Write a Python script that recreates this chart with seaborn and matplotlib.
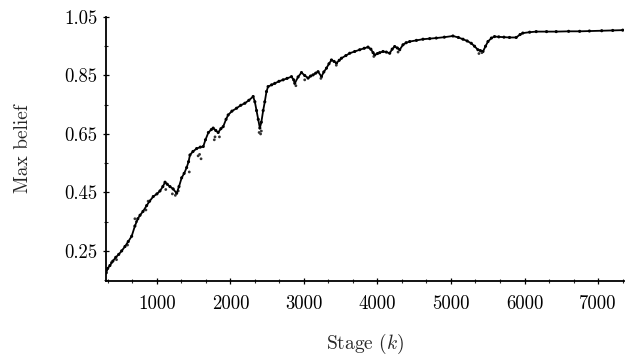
import matplotlib
matplotlib.use("Agg")
import matplotlib.pyplot as plt
import seaborn as sns
import pandas as pd
import numpy as np
from matplotlib.ticker import MultipleLocator, FixedLocator

stage = [310, 330, 360, 400, 440, 480, 520, 565, 610, 656, 700, 740, 770, 810, 860,
         900, 950, 1000, 1041, 1080, 1110, 1140, 1177, 1220, 1268, 1300, 1336, 1370,
         1404, 1430, 1449, 1490, 1540, 1590, 1630, 1660, 1700, 1740, 1765, 1800, 1833,
         1870, 1901, 1940, 1969, 2020, 2083, 2140, 2196, 2250, 2309, 2332, 2355, 2378,
         2400, 2420, 2445, 2467, 2490, 2512, 2560, 2603, 2660, 2716, 2770, 2830, 2860,
         2875, 2920, 2966, 3010, 3056, 3090, 3124, 3160, 3192, 3238, 3270, 3306, 3340,
         3374, 3410, 3442, 3480, 3510, 3570, 3622, 3690, 3758, 3820, 3871, 3910, 3940,
         3962, 4000, 4030, 4075, 4120, 4166, 4200, 4234, 4270, 4302, 4347, 4390, 4438,
         4530, 4619, 4710, 4800, 4910, 5026, 5100, 5163, 5220, 5276, 5320, 5366, 5400,
         5435, 5470, 5503, 5550, 5592, 5650, 5720, 5796, 5887, 5940, 5977, 6070, 6159,
         6300, 6431, 6600, 6750, 6883, 7050, 7200, 7336]
belief = [0.175, 0.19, 0.20, 0.215, 0.228, 0.238, 0.25, 0.265, 0.282, 0.30, 0.335, 0.36,
          0.372, 0.385, 0.405, 0.42, 0.436, 0.445, 0.455, 0.47, 0.485, 0.478, 0.47, 0.462,
          0.447, 0.47, 0.50, 0.515, 0.535, 0.555, 0.578, 0.59, 0.60, 0.605, 0.607, 0.63,
          0.655, 0.665, 0.67, 0.662, 0.655, 0.668, 0.675, 0.70, 0.715, 0.728, 0.738, 0.748,
          0.755, 0.765, 0.778, 0.76, 0.73, 0.70, 0.67, 0.69, 0.73, 0.76, 0.795, 0.812,
          0.818, 0.823, 0.83, 0.835, 0.84, 0.846, 0.835, 0.823, 0.845, 0.86, 0.85, 0.841,
          0.848, 0.852, 0.858, 0.863, 0.846, 0.862, 0.875, 0.89, 0.903, 0.898, 0.892,
          0.902, 0.909, 0.918, 0.926, 0.932, 0.938, 0.943, 0.947, 0.94, 0.928, 0.92,
          0.925, 0.928, 0.932, 0.93, 0.926, 0.94, 0.949, 0.944, 0.938, 0.955, 0.962,
          0.966, 0.97, 0.974, 0.976, 0.978, 0.981, 0.985, 0.98, 0.974, 0.968, 0.96, 0.95,
          0.938, 0.935, 0.932, 0.95, 0.966, 0.978, 0.983, 0.982, 0.981, 0.98, 0.98, 0.99,
          0.995, 0.998, 1.0, 1.0, 1.0, 1.001, 1.001, 1.002, 1.003, 1.004, 1.005]

scatter_stage = [380, 450, 600, 700, 720, 850, 880, 1120, 1210, 1250, 1290, 1440, 1560,
                 1580, 1600, 1780, 1790, 1850, 2390, 2410, 2420, 2890, 3010, 3230, 3440,
                 3950, 4280, 5380, 5420]
scatter_belief = [0.21, 0.22, 0.27, 0.36, 0.35, 0.39, 0.42, 0.46, 0.445, 0.44, 0.455,
                  0.52, 0.575, 0.58, 0.565, 0.63, 0.64, 0.64, 0.655, 0.65, 0.66, 0.815,
                  0.835, 0.84, 0.885, 0.915, 0.93, 0.925, 0.928]

yticks = [0.25, 0.45, 0.65, 0.85, 1.05]
ytick_labels = ["0.25", "0.45", "0.65", "0.85", "1.05"]
xticks = [1000, 2000, 3000, 4000, 5000, 6000, 7000]
xtick_labels = ["1000", "2000", "3000", "4000", "5000", "6000", "7000"]

sns.set_style("white")
plt.rcParams["font.family"] = ["cmr10", "DejaVu Serif"]
plt.rcParams["mathtext.fontset"] = "cm"
plt.rcParams["axes.formatter.use_mathtext"] = True

df = pd.DataFrame({"stage": stage, "belief": belief})
df_sc = pd.DataFrame({"stage": scatter_stage, "belief": scatter_belief})

fig = plt.figure(figsize=(6.25, 3.6), dpi=100)
ax = fig.add_axes([0.1696, 0.2194, 0.8284, 0.7334])

sns.lineplot(data=df, x="stage", y="belief", ax=ax, color="black", lw=1.3, sort=False)
sns.scatterplot(data=df, x="stage", y="belief", ax=ax, color="black", s=5,
                edgecolor="none")
sns.scatterplot(data=df_sc, x="stage", y="belief", ax=ax, color="#333333", s=4,
                edgecolor="none")

ax.set_xlim(307, 7350)
ax.set_ylim(0.147, 1.05)
ax.set_xticks(xticks)
ax.set_xticklabels(xtick_labels)
ax.set_yticks(yticks)
ax.set_yticklabels(ytick_labels)
ax.xaxis.set_minor_locator(FixedLocator([1000 / 3 * i for i in range(1, 23)]))
ax.yaxis.set_minor_locator(FixedLocator([0.15, 0.35, 0.55, 0.75, 0.95]))

for s in ["top", "right"]:
    ax.spines[s].set_visible(False)
for s in ["left", "bottom"]:
    ax.spines[s].set_color("black")
    ax.spines[s].set_linewidth(1.3)

ax.tick_params(axis="both", which="major", direction="inout", length=4, width=0.9,
               labelsize=13.5, colors="black", pad=4, bottom=True, left=True)
ax.tick_params(axis="both", which="minor", direction="inout", length=3, width=0.8,
               bottom=True, left=True)
ax.tick_params(axis="x", pad=8)

ax.set_xlabel(r"Stage $(k)$", fontsize=14, labelpad=14)
ax.set_ylabel("Max belief", fontsize=14, labelpad=23)

fig.savefig("out.png", dpi=100)
